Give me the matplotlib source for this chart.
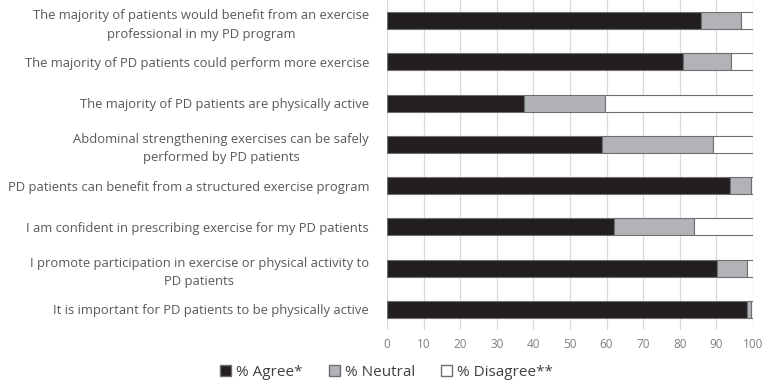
import numpy as np
import matplotlib.pyplot as plt
from matplotlib.patches import Patch

statements = [
    'The majority of patients would benefit from an exercise\nprofessional in my PD program',
    'The majority of PD patients could perform more exercise',
    'The majority of PD patients are physically active',
    'Abdominal strengthening exercises can be safely\nperformed by PD patients',
    'PD patients can benefit from a structured exercise program',
    'I am confident in prescribing exercise for my PD patients',
    'I promote participation in exercise or physical activity to\nPD patients',
    'It is important for PD patients to be physically active',
]
agree = [85.8, 80.8, 37.5, 58.8, 93.8, 61.9, 90.3, 98.5]
neutral = [10.9, 13.2, 22.2, 30.3, 5.6, 21.9, 8.2, 1.0]
disagree = [3.3, 6.0, 40.3, 10.9, 0.6, 16.2, 1.5, 0.5]
xticks = list(range(0, 101, 10))

plt.rcParams['font.family'] = ['Open Sans', 'DejaVu Sans']

fig = plt.figure(figsize=(7.62, 3.86), dpi=100)
ax = fig.add_axes([0.508, 0.145, 0.48, 0.855])

y = np.arange(len(statements))
agree = np.array(agree)
neutral = np.array(neutral)
disagree = np.array(disagree)
ec = '#6d6e71'
h = 0.41
ax.barh(y, agree, height=h, color='#231f20', edgecolor=ec, lw=0.8, zorder=3)
ax.barh(y, neutral, left=agree, height=h, color='#b1b3b6', edgecolor=ec, lw=0.8, zorder=3)
ax.barh(y, disagree, left=agree + neutral, height=h, color='white', edgecolor=ec, lw=0.8, zorder=3)

ax.set_ylim(len(statements) - 0.5, -0.5)
ax.set_xlim(0, 100)
ax.set_xticks(xticks)
ax.set_yticks(y)
ax.set_yticklabels(statements, fontsize=9.35, color='#595959', ha='right',
                   multialignment='center', linespacing=1.55)
ax.tick_params(axis='y', length=0, pad=13)
ax.tick_params(axis='x', length=0, labelsize=8.5, labelcolor='#7f7f7f', pad=6)
ax.grid(axis='x', color='#d9d9d9', lw=0.9, zorder=0)
for s in ax.spines.values():
    s.set_visible(False)

handles = [Patch(facecolor='#231f20', edgecolor=ec, label='% Agree*'),
           Patch(facecolor='#b1b3b6', edgecolor=ec, label='% Neutral'),
           Patch(facecolor='white', edgecolor=ec, label='% Disagree**')]
fig.legend(handles=handles, loc='center', bbox_to_anchor=(0.507, 0.035), ncol=3,
           frameon=False, fontsize=11, handlelength=0.75, handleheight=0.75,
           handletextpad=0.3, columnspacing=1.7, labelcolor='#404040')

fig.savefig('out.png', dpi=100)
